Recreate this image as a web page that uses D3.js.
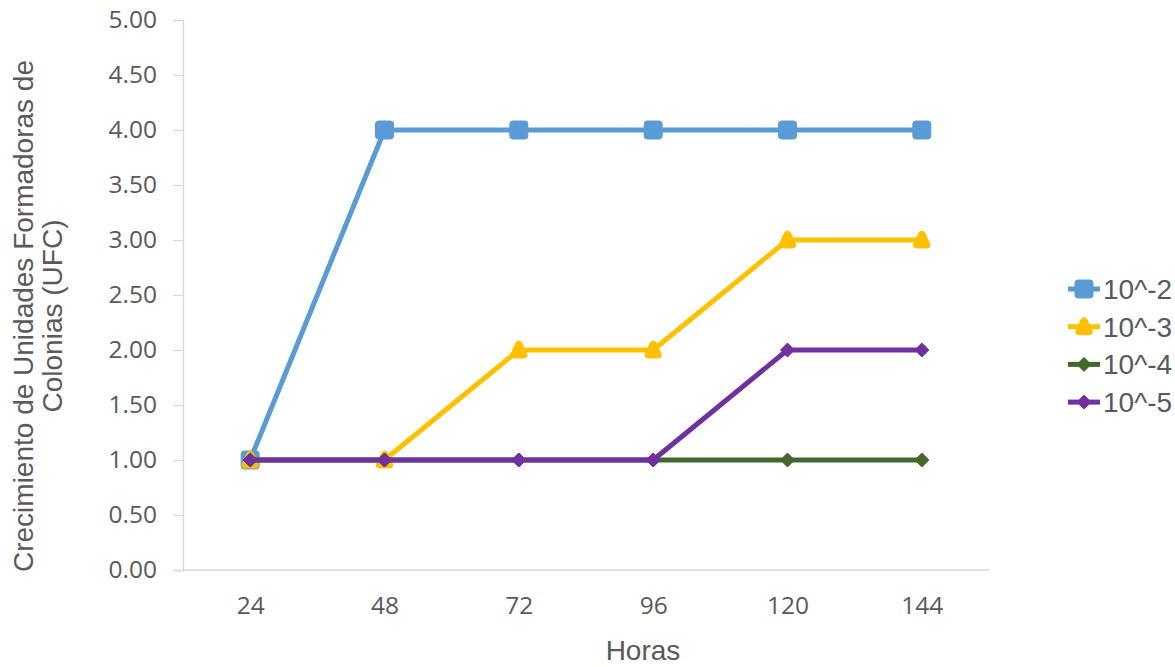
<!DOCTYPE html>
<html>
<head>
<meta charset="utf-8">
<script src="https://cdn.jsdelivr.net/npm/d3@7/dist/d3.min.js"></script>
<style>
  html, body { margin: 0; padding: 0; background: #fff; }
  svg { display: block; }
</style>
</head>
<body>
<svg id="chart" width="1175" height="667"></svg>
<script>
// Growth of colony forming units per dilution over time
const hours = ["24", "48", "72", "96", "120", "144"];
const seriesNames = ["10^-2", "10^-3", "10^-4", "10^-5"];
const valuesE2 = [1, 4, 4, 4, 4, 4];
const valuesE3 = [1, 1, 2, 2, 3, 3];
const valuesE4 = [1, 1, 1, 1, 1, 1];
const valuesE5 = [1, 1, 1, 1, 2, 2];
const yTicks = [0, 0.5, 1, 1.5, 2, 2.5, 3, 3.5, 4, 4.5, 5];

const colors = ["#5b9bd5", "#ffc000", "#43682b", "#7030a0"];
const markers = ["square", "triangle", "diamond", "diamond"];
const series = [valuesE2, valuesE3, valuesE4, valuesE5].map((v, i) => ({
  name: seriesNames[i], values: v, color: colors[i], marker: markers[i]
}));

const svg = d3.select("#chart");
const plot = { left: 183, right: 989, top: 20, bottom: 570 };

const x = d3.scalePoint().domain(hours).range([plot.left, plot.right]).padding(0.5);
const y = d3.scaleLinear().domain([0, 5]).range([plot.bottom, plot.top]);

const axisColor = "#d9d9d9";
const textColor = "#595959";
const tickFont = "'Open Sans', sans-serif";
const titleFont = "'Liberation Sans', Arial, sans-serif";

// Y axis
const yAxis = svg.append("g")
  .attr("transform", `translate(${plot.left},0)`)
  .call(d3.axisLeft(y).tickValues(yTicks).tickFormat(d3.format(".2f")).tickSizeOuter(0).tickSize(10).tickPadding(16));
yAxis.select(".domain").attr("stroke", axisColor).attr("stroke-width", 1.3);
yAxis.selectAll(".tick line").attr("stroke", axisColor).attr("stroke-width", 1.3);
yAxis.selectAll(".tick text")
  .attr("fill", textColor).attr("font-family", tickFont).attr("font-size", 24.5);

// X axis
const xAxis = svg.append("g")
  .attr("transform", `translate(0,${plot.bottom})`)
  .call(d3.axisBottom(x).tickSize(0).tickPadding(27));
xAxis.select(".domain").attr("stroke", axisColor).attr("stroke-width", 1.3)
  .attr("d", `M${plot.left},0H${plot.right}`);
xAxis.selectAll(".tick text")
  .attr("fill", textColor).attr("font-family", tickFont).attr("font-size", 24.5);

// Axis titles
svg.append("text")
  .attr("x", 643).attr("y", 660)
  .attr("text-anchor", "middle")
  .attr("fill", textColor).attr("font-family", titleFont).attr("font-size", 28)
  .text("Horas");

const yTitle = svg.append("text")
  .attr("transform", "translate(0,316) rotate(-90)")
  .attr("text-anchor", "middle")
  .attr("fill", textColor).attr("font-family", titleFont).attr("font-size", 28);
yTitle.append("tspan").attr("x", 0).attr("y", 33).text("Crecimiento de Unidades Formadoras de");
yTitle.append("tspan").attr("x", 0).attr("y", 62).text("Colonias (UFC)");

// Marker shapes
function markerPath(type) {
  if (type === "square") {
    return "M-9,-6Q-9,-9 -6,-9H6Q9,-9 9,-6V6Q9,9 6,9H-6Q-9,9 -9,6Z";
  }
  if (type === "triangle") {
    return "M0,-9Q2,-9 3,-7L8,4Q9,8 5,8H-5Q-9,8 -8,4L-3,-7Q-2,-9 0,-9Z";
  }
  return "M0,-7L7,0L0,7L-7,0Z";
}

const line = d3.line().x((d, i) => x(hours[i])).y(d => y(d));

const lines = svg.append("g");
series.forEach(s => {
  const g = lines.append("g");
  g.append("path")
    .attr("d", line(s.values))
    .attr("fill", "none").attr("stroke", s.color).attr("stroke-width", 5)
    .attr("stroke-linejoin", "round");
  g.selectAll("path.mk").data(s.values).join("path")
    .attr("class", "mk")
    .attr("transform", (d, i) => `translate(${x(hours[i])},${y(d)})`)
    .attr("d", markerPath(s.marker))
    .attr("fill", s.color).attr("stroke", s.color).attr("stroke-width", 1)
    .attr("stroke-linejoin", "round");
});

// Legend
const legend = svg.append("g");
series.forEach((s, i) => {
  const ly = 289 + i * 37.7;
  const g = legend.append("g").attr("transform", `translate(1084,${ly})`);
  g.append("line").attr("x1", -16).attr("x2", 16).attr("y1", 0).attr("y2", 0)
    .attr("stroke", s.color).attr("stroke-width", 5);
  g.append("path").attr("d", markerPath(s.marker))
    .attr("fill", s.color).attr("stroke", s.color).attr("stroke-linejoin", "round");
  g.append("text").attr("x", 19).attr("y", 10)
    .attr("fill", textColor).attr("font-family", titleFont).attr("font-size", 28)
    .text(s.name);
});
</script>
</body>
</html>
